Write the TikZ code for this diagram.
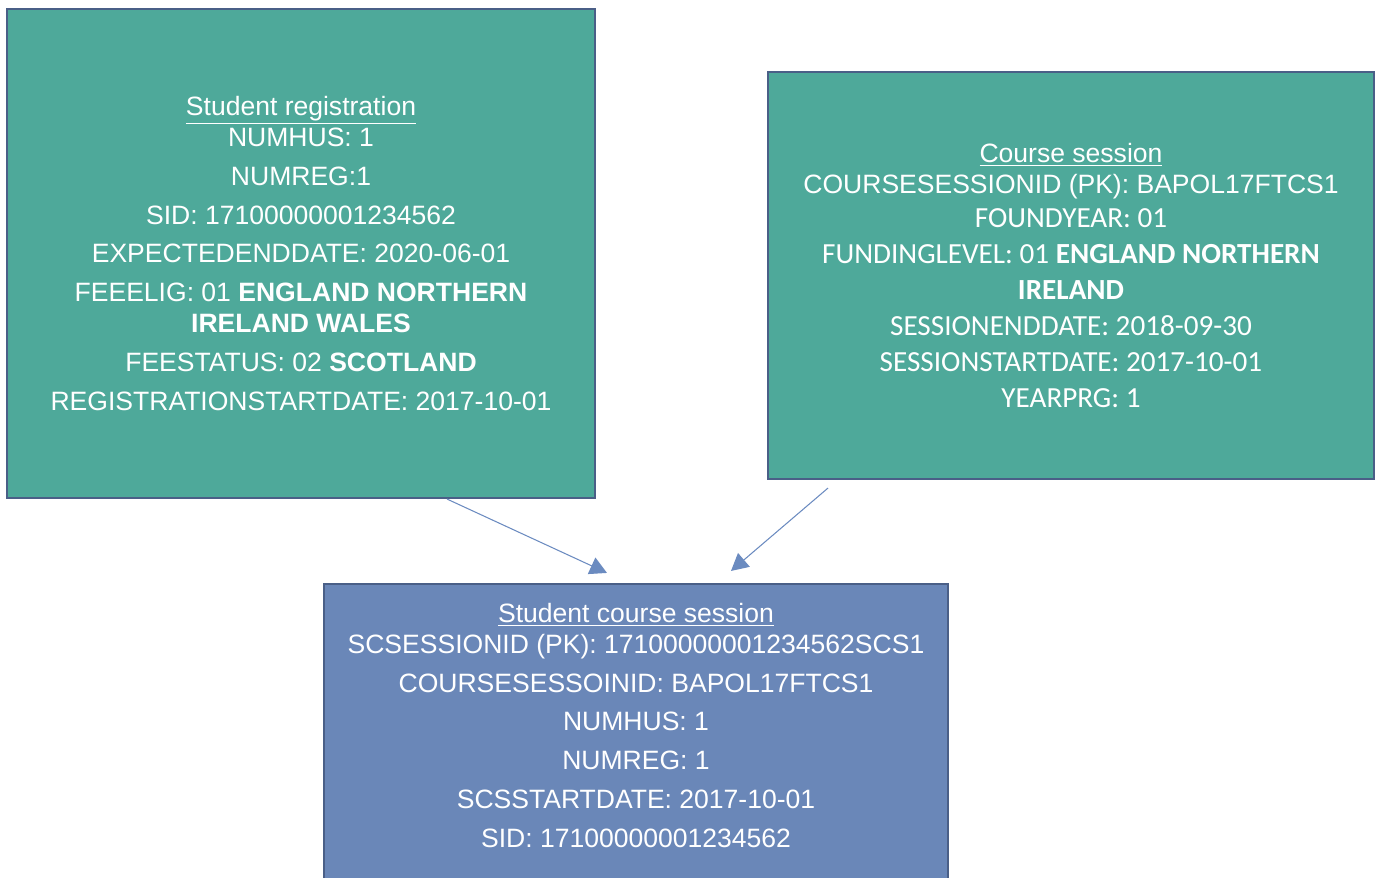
\documentclass[tikz,border=0pt]{standalone}
\usepackage{fontspec}
\setmainfont{Liberation Sans}
\newfontfamily\calibri{Carlito}
\usetikzlibrary{calc}
\usetikzlibrary{arrows.meta}

\definecolor{boxteal}{RGB}{78,169,154}
\definecolor{boxblue}{RGB}{106,135,184}
\definecolor{boxedge}{RGB}{74,95,135}
\definecolor{arrowblue}{RGB}{107,139,192}

\newcommand{\arialtxt}{\fontsize{15.1pt}{17.6pt}\selectfont}
\newcommand{\calibritxt}{\calibri\fontsize{16.6pt}{17.6pt}\selectfont}

\begin{document}
\begin{tikzpicture}[B/.style={rectangle, draw=boxedge, line width=1.2pt, text=white, align=center, inner sep=0pt, font=\arialtxt},
E/.style={B, fill=boxteal},
S/.style={B, fill=boxblue},
lA/.style={draw=arrowblue, line width=0.6pt, -{Triangle[length=3.4mm,width=3.6mm]}}]
%
\useasboundingbox (0,0) rectangle (27.58,17.56);

\node[E, minimum width=11.76cm, minimum height=9.78cm] at (6.02,12.49) (reg) {\underline{Student registration}\\
NUMHUS: 1\\[1.6mm]
NUMREG:1\\[1.6mm]
SID: 17100000001234562\\[1.6mm]
EXPECTEDENDDATE: 2020-06-01\\[1.6mm]
FEEELIG: 01 \textbf{ENGLAND NORTHERN}\\
\textbf{IRELAND WALES}\\[1.6mm]
FEESTATUS: 02 \textbf{SCOTLAND}\\[1.6mm]
REGISTRATIONSTARTDATE: 2017-10-01};

\node[E, minimum width=12.12cm, minimum height=8.14cm] at (21.42,12.05) (crs) {\underline{Course session}\\
COURSESESSIONID (PK): BAPOL17FTCS1\\[0.6mm]
{\calibritxt FOUNDYEAR: 01}\\[1mm]
{\calibritxt FUNDINGLEVEL: 01 \textbf{ENGLAND NORTHERN}}\\[1mm]
{\calibritxt\textbf{IRELAND}}\\[1mm]
{\calibritxt SESSIONENDDATE: 2018-09-30}\\[1mm]
{\calibritxt SESSIONSTARTDATE: 2017-10-01}\\[1mm]
{\calibritxt YEARPRG: 1}};

% bottom box runs off the page
\node[S, minimum width=12.48cm, minimum height=7cm] at (12.72,2.38) (scs) {};
\node[text=white, align=center, font=\arialtxt] at (12.72,3.05) (scsText) {\underline{Student course session}\\
SCSESSIONID (PK): 17100000001234562SCS1\\[1.6mm]
COURSESESSOINID: BAPOL17FTCS1\\[1.6mm]
NUMHUS: 1\\[1.6mm]
NUMREG: 1\\[1.6mm]
SCSSTARTDATE: 2017-10-01\\[1.6mm]
SID: 17100000001234562};

\draw[lA] ([xshift=2.92cm]reg.south) -- ([xshift=-5.8mm,yshift=2mm]scs.north);
\draw[lA] ([xshift=-4.86cm,yshift=-1.6mm]crs.south) -- ([xshift=19mm,yshift=2.4mm]scs.north);

\end{tikzpicture}
\end{document}
